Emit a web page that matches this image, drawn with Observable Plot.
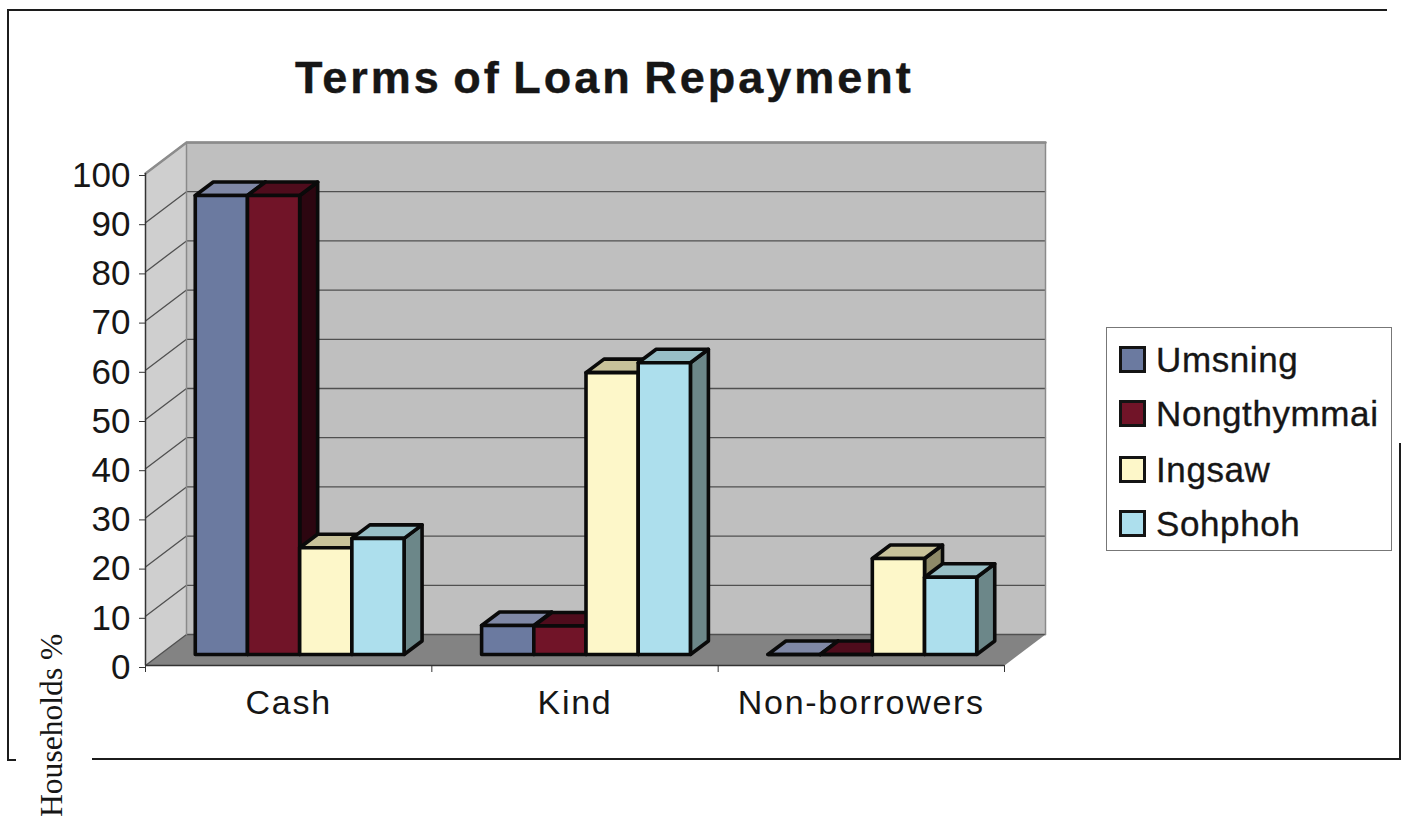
<!DOCTYPE html>
<html>
<head>
<meta charset="utf-8">
<script src="https://cdn.jsdelivr.net/npm/d3@7"></script>
<script src="https://cdn.jsdelivr.net/npm/@observablehq/plot@0.6"></script>
<style>
  html, body { margin: 0; background: #fff; }
  #page { position: relative; width: 1407px; height: 821px; overflow: hidden; font-family: "Liberation Sans", Arial, sans-serif; color: #161616; }
  #page svg { position: absolute; left: 0; top: 0; background: transparent; -webkit-text-stroke: 0.35px #161616; }
  #page svg g[aria-label="x-axis tick label"] { letter-spacing: 1.7px; }
  .rule { position: absolute; background: #1c1c1c; }
  #title { position: absolute; left: 295px; top: 52px; font-weight: bold; font-size: 45px; line-height: 52px; letter-spacing: 3px; word-spacing: -4px; white-space: nowrap; -webkit-text-stroke: 0.4px #161616; }
  #ylabel { position: absolute; left: 36px; top: 631px; height: 186px; font-family: "Liberation Serif", serif; font-size: 31.6px; line-height: 32px; writing-mode: vertical-rl; transform: rotate(180deg); white-space: nowrap; }
  #legend { position: absolute; left: 1106px; top: 327px; width: 284px; height: 222px; border: 1px solid #777; box-sizing: content-box; }
  #legend .sw { position: absolute; left: 12px; width: 21px; height: 21px; border: 3px solid #141414; }
  #legend .lb { position: absolute; left: 49px; font-size: 35px; line-height: 38px; letter-spacing: 0.6px; white-space: nowrap; -webkit-text-stroke: 0.35px #161616; }
</style>
</head>
<body>
<div id="page">
  <div class="rule" style="left:7px;top:9px;width:1380px;height:2px"></div>
  <div class="rule" style="left:7px;top:9px;width:2px;height:752px"></div>
  <div class="rule" style="left:7px;top:759px;width:9px;height:2px"></div>
  <div class="rule" style="left:92px;top:758px;width:1309px;height:2px"></div>
  <div class="rule" style="left:1399px;top:443px;width:2px;height:317px"></div>
  <div id="title">Terms of Loan Repayment</div>
  <div id="ylabel">Households %</div>
  <div id="legend"></div>
</div>
<script>
// Loan repayment terms, share of households (%) in each village
const categories = ["Cash", "Kind", "Non-borrowers"];
const villages = ["Umsning", "Nongthymmai", "Ingsaw", "Sohphoh"];
const umsning = [93.3, 5.9, 0];
const nongthymmai = [93.3, 5.8, 0];
const ingsaw = [21.7, 57.3, 19.5];
const sohphoh = [23.6, 59.3, 15.7];
const seriesValues = [umsning, nongthymmai, ingsaw, sohphoh];

// Front, top and side shades of each village's bars
const palette = {
  Umsning: {front: "#6b7aa0", top: "#7f88a6", side: "#3c4560"},
  Nongthymmai: {front: "#711428", top: "#4f0c1c", side: "#2c0610"},
  Ingsaw: {front: "#fdf7c9", top: "#c8c29a", side: "#8e8a68"},
  Sohphoh: {front: "#addfed", top: "#98bfc6", side: "#6c8789"}
};

// Plot frame on the page
const width = 1407, height = 821;
const left = 145, right = 1004, top100 = 173, base = 665;
const xUnit = (right - left) / categories.length;
const yUnit = (base - top100) / 100;

// Oblique projection: a pixel shift turned into data units
const at = (x, y, [dx, dy]) => ({x: x + dx / xUnit, y: y + dy / yUnit});
const wallDepth = [41, 31];
const barFront = [11, 11];
const barBack = [29, 24.5];
const barSize = 52.2 / xUnit;

const polygon = (id, fill, points) => points.map((p) => ({...p, id, fill}));

const walls = [
  ...polygon("back", "#bfbfbf", [at(0, 0, wallDepth), at(3, 0, wallDepth), at(3, 100, wallDepth), at(0, 100, wallDepth)]),
  ...polygon("side", "#cfcfcf", [at(0, 0, [0, 0]), at(0, 0, wallDepth), at(0, 100, wallDepth), at(0, 100, [0, 0])]),
  ...polygon("floor", "#838383", [at(0, 0, [0, 0]), at(3, 0, [0, 0]), at(3, 0, wallDepth), at(0, 0, wallDepth)])
];

const levels = d3.range(0, 101, 10);
const grid = levels.flatMap((v) => [
  {id: `g${v}`, ...at(0, v, [0, 0])},
  {id: `g${v}`, ...at(0, v, wallDepth)},
  {id: `g${v}`, ...at(3, v, wallDepth)}
]).filter((d) => d.y > 0 || d.x <= 0);

// One side, top and front face per bar, painted left to right
const faces = categories.flatMap((category, c) =>
  villages.flatMap((village, s) => {
    const v = seriesValues[s][c];
    const x0 = c + 0.5 + (s - 2) * barSize;
    const x1 = x0 + barSize;
    const shade = palette[village];
    const key = `${category}-${village}`;
    return [
      ...polygon(`${key}-side`, shade.side, [at(x1, 0, barFront), at(x1, 0, barBack), at(x1, v, barBack), at(x1, v, barFront)]),
      ...polygon(`${key}-top`, shade.top, [at(x0, v, barFront), at(x1, v, barFront), at(x1, v, barBack), at(x0, v, barBack)]),
      ...polygon(`${key}-front`, shade.front, [at(x0, 0, barFront), at(x1, 0, barFront), at(x1, v, barFront), at(x0, v, barFront)])
    ];
  })
);

const chart = Plot.plot({
  width, height,
  marginLeft: left, marginRight: width - right, marginTop: top100, marginBottom: height - base,
  style: {fontFamily: "'Liberation Sans', Arial, sans-serif", color: "#161616", overflow: "visible"},
  x: {domain: [0, 3]},
  y: {domain: [0, 100]},
  color: {type: "identity"},
  marks: [
    Plot.line(walls, {x: "x", y: "y", z: "id", fill: "fill", stroke: "none", curve: "linear-closed"}),
    Plot.line(grid, {x: "x", y: "y", z: "id", stroke: "#505050", strokeWidth: 1.3}),
    Plot.line([at(0, 100, [0, 0]), at(0, 100, wallDepth), at(3, 100, wallDepth)], {x: "x", y: "y", stroke: "#8c8c8c", strokeWidth: 2.5}),
    Plot.line([at(0, 0, wallDepth), at(0, 100, wallDepth)], {x: "x", y: "y", stroke: "#8a8a8a", strokeWidth: 1.5}),
    Plot.line([at(3, 0, wallDepth), at(3, 100, wallDepth)], {x: "x", y: "y", stroke: "#8a8a8a", strokeWidth: 1.5}),
    Plot.line(faces, {x: "x", y: "y", z: "id", fill: "fill", stroke: "#0a0a0a", strokeWidth: 3.6, curve: "linear-closed"}),
    Plot.ruleX([0], {y1: 0, y2: 100, stroke: "#333", strokeWidth: 1.5}),
    Plot.ruleY([0], {x1: 0, x2: 3, stroke: "#333", strokeWidth: 1.5}),
    Plot.axisY({ticks: levels, tickSize: 6, tickPadding: 9, fontSize: 35, dy: 2, label: null, tickFormat: (d) => d, stroke: "#333"}),
    Plot.axisX({ticks: [0, 1, 2, 3], tickSize: 7, tickFormat: () => "", label: null, stroke: "#333"}),
    Plot.axisX({ticks: [0.5, 1.5, 2.5], tickSize: 0, tickPadding: 24, fontSize: 34, dy: 0, label: null, tickFormat: (d) => categories[Math.floor(d)]})
  ]
});
document.getElementById("page").appendChild(chart);

// Legend entries, one row per village
const legend = document.getElementById("legend");
const rowTop = [18, 72, 128, 182];
villages.forEach((village, i) => {
  const sw = document.createElement("div");
  sw.className = "sw";
  sw.style.top = `${rowTop[i]}px`;
  sw.style.background = palette[village].front;
  const lb = document.createElement("div");
  lb.className = "lb";
  lb.style.top = `${rowTop[i] - 5}px`;
  lb.textContent = village;
  legend.append(sw, lb);
});
</script>
</body>
</html>
